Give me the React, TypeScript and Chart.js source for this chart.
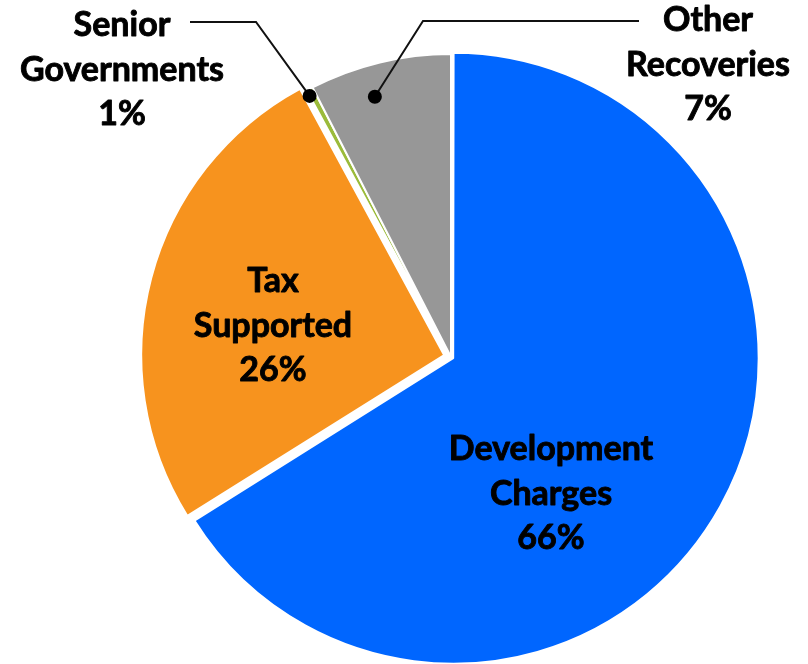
import React, { useEffect, useRef } from "react";
import { Chart, registerables } from "chart.js";

Chart.register(...registerables);

// ---- data ----
const categories = ["Development Charges", "Tax Supported", "Senior Governments", "Other Recoveries"];
const shares = [66.1, 26.0, 0.35, 7.55];
const shareLabels = ["66%", "26%", "1%", "7%"];
const nameLines = [["Development", "Charges"], ["Tax", "Supported"], ["Senior", "Governments"], ["Other", "Recoveries"]];
const colors = ["#0066FF", "#F7931E", "#9BBB3B", "#979797"];
// Chart.js draws an arc's offset at one quarter of the given value
const sliceOffsets = [10, 28, 0, 0];

// ---- label layout (pixels) ----
const labelCenters = [
  { x: 551, y: 460 },
  { x: 273, y: 292 },
  { x: 122, y: 36 },
  { x: 708, y: 31 },
];
const LINE_GAP = 44.5;
// leader lines: elbow, end of horizontal, dot position inside slice (t along angle, frac of radius)
const leaders: Record<number, { elbow: [number, number]; end: [number, number]; t: number; frac: number }> = {
  2: { elbow: [256, 22], end: [190, 22], t: 0, frac: 0.98 },
  3: { elbow: [423, 21], end: [639, 21], t: 0.4, frac: 0.895 },
};

const labelPlugin = {
  id: "pieLabels",
  afterDatasetsDraw(chart: any) {
    const ctx: CanvasRenderingContext2D = chart.ctx;
    const arcs = chart.getDatasetMeta(0).data;
    ctx.save();
    Object.keys(leaders).forEach((k) => {
      const i = Number(k);
      const L = leaders[i];
      const p = arcs[i].getProps(["x", "y", "startAngle", "endAngle", "outerRadius"], true);
      const ang = p.startAngle + L.t * (p.endAngle - p.startAngle);
      const dx = p.x + Math.cos(ang) * p.outerRadius * L.frac;
      const dy = p.y + Math.sin(ang) * p.outerRadius * L.frac;
      ctx.strokeStyle = "#111";
      ctx.lineWidth = 2;
      ctx.beginPath();
      ctx.moveTo(L.end[0], L.end[1]);
      ctx.lineTo(L.elbow[0], L.elbow[1]);
      ctx.lineTo(dx, dy);
      ctx.stroke();
      ctx.fillStyle = "#000";
      ctx.beginPath();
      ctx.arc(dx, dy, 7, 0, Math.PI * 2);
      ctx.fill();
    });
    ctx.font = "bold 34px Lato";
    ctx.fillStyle = "#000";
    ctx.strokeStyle = "#000";
    ctx.lineWidth = 0.9;
    ctx.lineJoin = "round";
    ctx.textAlign = "center";
    ctx.textBaseline = "alphabetic";
    categories.forEach((_, i) => {
      const lines = [...nameLines[i], shareLabels[i]];
      const c = labelCenters[i];
      lines.forEach((t, j) => {
        ctx.fillText(t, c.x, c.y + j * LINE_GAP);
        ctx.strokeText(t, c.x, c.y + j * LINE_GAP);
      });
    });
    ctx.restore();
  },
};

export default function App() {
  const ref = useRef<HTMLCanvasElement | null>(null);
  useEffect(() => {
    if (!ref.current) return;
    const chart = new Chart(ref.current, {
      type: "pie",
      data: {
        labels: categories,
        datasets: [
          {
            data: shares,
            backgroundColor: colors,
            borderColor: "#ffffff",
            borderWidth: 2,
            offset: sliceOffsets,
            hoverOffset: 0,
          },
        ],
      },
      options: {
        responsive: false,
        animation: false,
        radius: 303,
        layout: { padding: { left: 94, top: 50, right: 0, bottom: 0 } },
        plugins: {
          legend: { display: false },
          tooltip: { enabled: false },
        },
      },
      plugins: [labelPlugin],
    });
    return () => chart.destroy();
  }, []);
  return (
    <div style={{ position: "fixed", left: 0, top: 0, width: 808, height: 664, background: "#fff" }}>
      <canvas ref={ref} width={808} height={664} style={{ width: 808, height: 664 }} />
    </div>
  );
}
